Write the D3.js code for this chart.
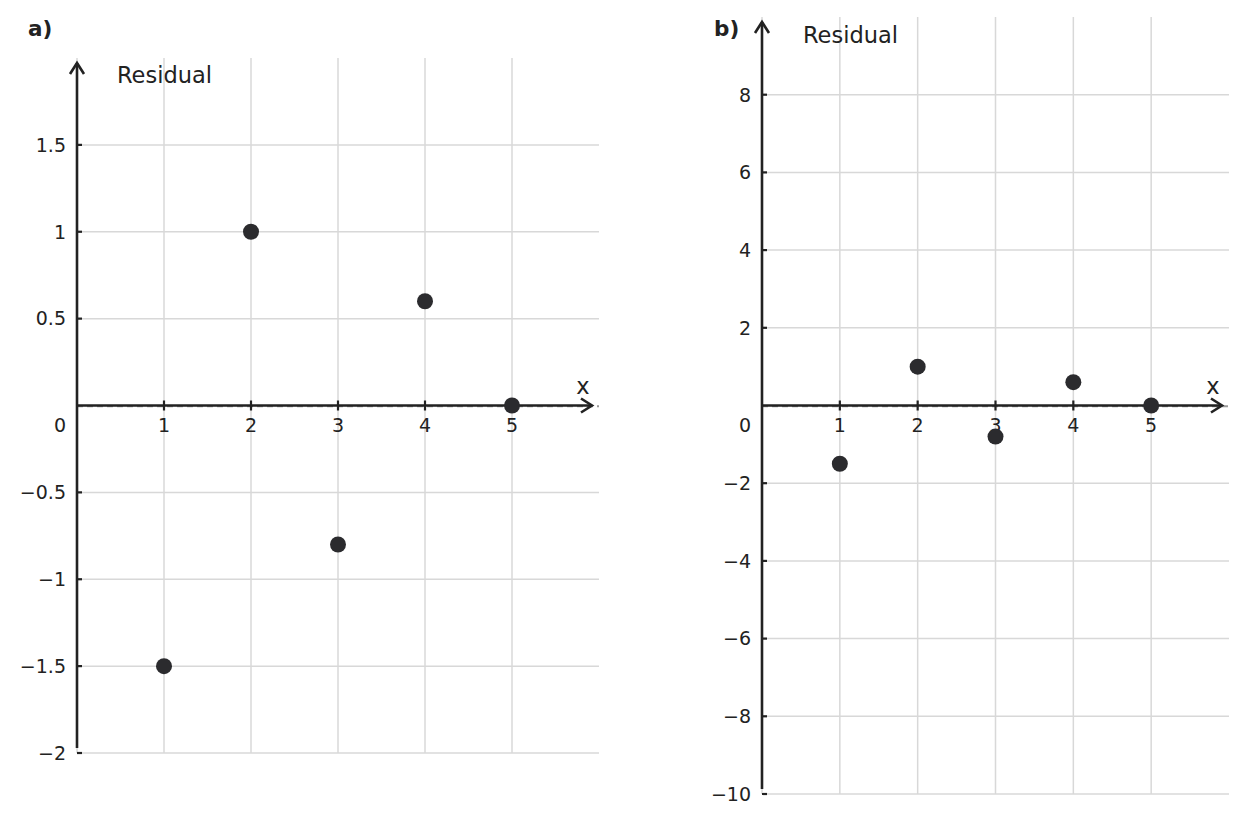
<!DOCTYPE html>
<html><head><meta charset="utf-8">
<script src="https://cdn.jsdelivr.net/npm/d3@7"></script>
<style>body{margin:0;background:#fff;} text{font-family:"DejaVu Sans",sans-serif;fill:#222;}</style>
</head><body>
<svg id="c" width="1247" height="823"></svg>
<script>
const xValues = [1, 2, 3, 4, 5];
const residuals = [-1.5, 1, -0.8, 0.6, 0];
const xTicks = [1, 2, 3, 4, 5];
const yTicksA = [-2, -1.5, -1, -0.5, 0.5, 1, 1.5];
const yTicksB = [-10, -8, -6, -4, -2, 2, 4, 6, 8];
const panelLabels = ["a)", "b)"];

const panels = [
  {label: panelLabels[0], xr:[77,599], yr:[753,58], yd:[-2,2], yTicks:yTicksA, lx:28, ly:36, resX:117, resY:83, arrowTop:63},
  {label: panelLabels[1], xr:[762,1229], yr:[794,17], yd:[-10,10], yTicks:yTicksB, lx:714, ly:36, resX:803, resY:43, arrowTop:22}
];
const svg = d3.select("#c");
const fmt = v => (v < 0 ? "\u2212" : "") + Math.abs(v);

panels.forEach(p => {
  const x = d3.scaleLinear().domain([0,6]).range(p.xr);
  const y = d3.scaleLinear().domain(p.yd).range(p.yr);
  const g = svg.append("g");
  const x0 = x(0), y0 = y(0);
  // vertical grid
  g.selectAll(".vg").data([0].concat(xTicks)).enter().append("line")
    .attr("x1", d=>x(d)).attr("x2", d=>x(d)).attr("y1", y(p.yd[1])).attr("y2", y(p.yd[0]))
    .attr("stroke", "#d8d8d8").attr("stroke-width", 1.5);
  // horizontal grid
  g.selectAll(".hg").data(p.yTicks).enter().append("line")
    .attr("x1", x(0)).attr("x2", x(6)).attr("y1", d=>y(d)).attr("y2", d=>y(d))
    .attr("stroke", "#d8d8d8").attr("stroke-width", 1.5);
  // zero dashed line
  g.append("line").attr("x1", x(0)).attr("x2", x(6)).attr("y1", y0+0.8).attr("y2", y0+0.8)
    .attr("stroke", "#999").attr("stroke-width", 2).attr("stroke-dasharray", "6,4");
  // axes
  const ax = "#222";
  g.append("line").attr("x1", x0).attr("x2", x(6)-7).attr("y1", y0).attr("y2", y0)
    .attr("stroke", ax).attr("stroke-width", 2.6);
  g.append("line").attr("x1", x0).attr("x2", x0).attr("y1", y(p.yd[0])-5).attr("y2", p.arrowTop)
    .attr("stroke", ax).attr("stroke-width", 2.6);
  // arrow heads
  const xt = x(6)-7;
  g.append("path").attr("d", `M${xt-11},${y0-7}L${xt},${y0}L${xt-11},${y0+7}`)
    .attr("fill","none").attr("stroke", ax).attr("stroke-width", 2.6);
  g.append("path").attr("d", `M${x0-7},${p.arrowTop+11}L${x0},${p.arrowTop}L${x0+7},${p.arrowTop+11}`)
    .attr("fill","none").attr("stroke", ax).attr("stroke-width", 2.6);
  // x ticks
  g.selectAll(".xt").data(xTicks).enter().append("line")
    .attr("x1", d=>x(d)).attr("x2", d=>x(d)).attr("y1", y0-5).attr("y2", y0+5)
    .attr("stroke", ax).attr("stroke-width", 2.2);
  g.selectAll(".xl").data(xTicks).enter().append("text")
    .attr("x", d=>x(d)).attr("y", y0+26).attr("text-anchor","middle")
    .attr("font-size", 19).text(d=>d);
  // y ticks
  g.selectAll(".yt").data(p.yTicks).enter().append("line")
    .attr("x1", x0).attr("x2", x0+5).attr("y1", d=>y(d)).attr("y2", d=>y(d))
    .attr("stroke", ax).attr("stroke-width", 2.2);
  g.selectAll(".yl").data(p.yTicks).enter().append("text")
    .attr("x", x0-11).attr("y", d=>y(d)).attr("dy", "0.36em").attr("text-anchor","end")
    .attr("font-size", 19).text(d=>fmt(d));
  g.append("text").attr("x", x0-11).attr("y", y0+26).attr("text-anchor","end")
    .attr("font-size", 19).text("0");
  // axis titles
  g.append("text").attr("x", p.resX).attr("y", p.resY).attr("font-size", 22.5).text("Residual");
  g.append("text").attr("x", x(6)-16).attr("y", y0-12).attr("text-anchor","middle").attr("font-size", 22.5).text("x");
  g.append("text").attr("x", p.lx).attr("y", p.ly).attr("font-size", 21.5).attr("font-weight","bold").text(p.label);
  // points
  g.selectAll(".pt").data(xValues).enter().append("circle")
    .attr("cx", d=>x(d)).attr("cy", (d,i)=>y(residuals[i])).attr("r", 8)
    .attr("fill", "#2b2b2e");
});
</script>
</body></html>
